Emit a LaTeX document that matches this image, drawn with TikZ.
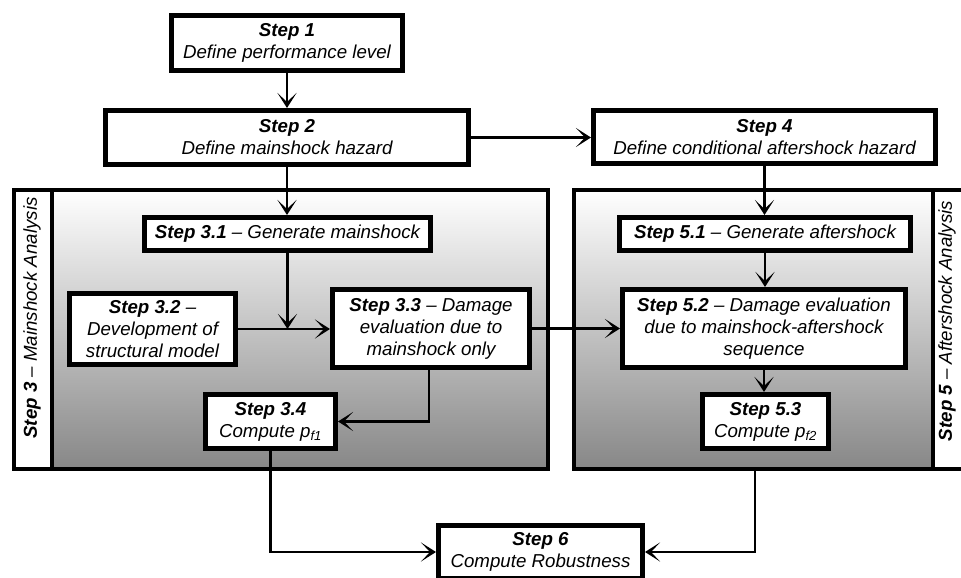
\documentclass[tikz,border=0pt]{standalone}
\usepackage{fontspec}
\setmainfont{Liberation Sans}
\usetikzlibrary{arrows.meta,calc}
\begin{document}
\begin{tikzpicture}[x=1pt,y=-1pt,
  stepbox/.style={draw=black,line width=5pt,fill=white,inner sep=0pt,align=center,
    font=\fontsize{18.7}{22}\selectfont\itshape},
  panelbox/.style={draw=black,line width=4pt,top color=white,bottom color=black!47},
  stripbox/.style={draw=black,line width=4pt,fill=white},
  striplabel/.style={rotate=90,font=\fontsize{18.7}{22}\selectfont\itshape},
  arr/.style={line width=2.4pt,-{Stealth[length=15pt,width=19pt,inset=9pt]}}]
\useasboundingbox (0,0) rectangle (961,578);
\clip (0,0) rectangle (961,578);
\fill[white] (0,0) rectangle (961,578);

% panels
\draw[panelbox] (52,190) rectangle (548,469);
\draw[stripbox] (14,190) rectangle (52,469);
\draw[panelbox] (574,190) rectangle (933,469);
\draw[stripbox] (933,190) rectangle (975,469);
\node[striplabel] (l3) at (32,318) {\textbf{Step 3} – Mainshock Analysis};
\node[striplabel] (l5) at (947,321) {\textbf{Step 5} – Aftershock Analysis};

% boxes
\node[stepbox,minimum width=231pt,minimum height=55pt] (s1) at (287,43)
  {\textbf{Step 1}\\Define performance level};
\node[stepbox,minimum width=363pt,minimum height=54pt] (s2) at (287,137.5)
  {\textbf{Step 2}\\Define mainshock hazard};
\node[stepbox,minimum width=342pt,minimum height=53pt] (s4) at (764.5,137)
  {\textbf{Step 4}\\Define conditional aftershock hazard};
\node[stepbox,minimum width=286pt,minimum height=33pt] (s31) at (287.5,234)
  {\textbf{Step 3.1} – Generate mainshock};
\node[stepbox,minimum width=166pt,minimum height=71pt] (s32) at (152.5,329)
  {\textbf{Step 3.2} –\\Development of\\structural model};
\node[stepbox,minimum width=197pt,minimum height=78pt] (s33) at (431,328.5)
  {\textbf{Step 3.3} – Damage\\evaluation due to\\mainshock only};
\node[stepbox,minimum width=130pt,minimum height=54pt] (s34) at (270.5,421.5)
  {\textbf{Step 3.4}\\Compute \textit{p}\textsubscript{\textit{f1}}};
\node[stepbox,minimum width=291pt,minimum height=33pt] (s51) at (765,234)
  {\textbf{Step 5.1} – Generate aftershock};
\node[stepbox,minimum width=283pt,minimum height=78pt] (s52) at (764,328.5)
  {\textbf{Step 5.2} – Damage evaluation\\due to mainshock-aftershock\\sequence};
\node[stepbox,minimum width=126pt,minimum height=54pt] (s53) at (765.5,421.5)
  {\textbf{Step 5.3}\\Compute \textit{p}\textsubscript{\textit{f2}}};
\node[stepbox,minimum width=204pt,minimum height=53pt] (s6) at (540.5,552)
  {\textbf{Step 6}\\Compute Robustness};

% connectors
\coordinate (j) at (s31.south |- s32.east);
\coordinate (p2b) at (755,469);
\draw[arr] (s1.south) -- (s2.north);
\draw[arr] (s2.east) -- (s2.east -| s4.west);
\draw[arr] (s2.south) -- (s2.south |- s31.north);
\draw[arr] (s31.south) -- (j);
\draw[arr] (s32.east) -- (s32.east -| s33.west);
\draw[arr] (s33.east) -- (s33.east -| s52.west);
\draw[arr] ([xshift=-2pt]s33.south) |- (s34.east);
\draw[arr] (s4.south) -- (s4.south |- s51.north);
\draw[arr] (s51.south) -- (s51.south |- s52.north);
\draw[arr] (s52.south) -- (s52.south |- s53.north);
\draw[arr] (s34.south) |- (s6.west);
\draw[arr] (p2b) |- (s6.east);
\end{tikzpicture}
\end{document}
